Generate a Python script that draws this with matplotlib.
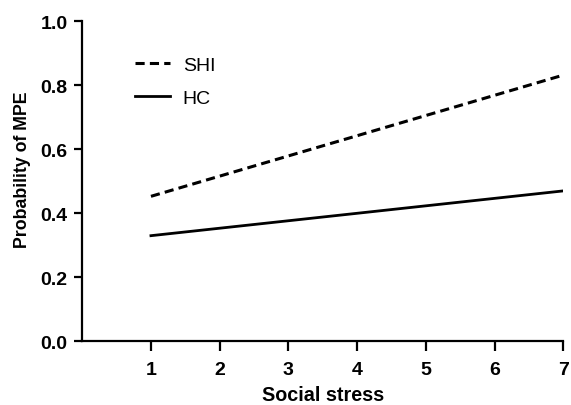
import matplotlib
matplotlib.use("Agg")
import matplotlib.pyplot as plt

stress = [1, 7]
shi = [0.453, 0.832]
hc = [0.33, 0.47]
xticks = [1, 2, 3, 4, 5, 6, 7]
yticks = [0.0, 0.2, 0.4, 0.6, 0.8, 1.0]

plt.rcParams['font.family'] = ['Liberation Sans', 'DejaVu Sans']

fig = plt.figure(figsize=(5.71, 4.06), dpi=100)
ax = fig.add_axes([0.144, 0.157, 0.8426, 0.788])

ax.plot(stress, shi, color='black', lw=2.2, dashes=(3.0, 1.7), label='SHI')
ax.plot(stress, hc, color='black', lw=2.0, label='HC')

ax.set_xlim(0, 7)
ax.set_ylim(0, 1.0)
ax.set_xticks(xticks)
ax.set_yticks(yticks)
ax.set_yticklabels([f"{v:.1f}" for v in yticks])
for s in ['top', 'right']:
    ax.spines[s].set_visible(False)
for s in ['left', 'bottom']:
    ax.spines[s].set_linewidth(1.6)
ax.tick_params(direction='out', width=1.6, labelsize=14)
ax.tick_params(axis='x', length=7, pad=7)
ax.tick_params(axis='y', length=5.5, pad=5)
for lab in ax.get_xticklabels() + ax.get_yticklabels():
    lab.set_fontweight('bold')
ax.set_xlabel('Social stress', fontsize=14.2, fontweight='bold', labelpad=5)
ax.set_ylabel('Probability of MPE', fontsize=12.8, fontweight='bold')
ax.yaxis.set_label_coords(-0.106, 0.538)

leg = ax.legend(loc='upper left', bbox_to_anchor=(0.11, 0.89), frameon=False,
                borderpad=0, borderaxespad=0,
                fontsize=14, handlelength=1.8, handletextpad=0.65, labelspacing=0.78)

fig.savefig('out.png', dpi=100)
